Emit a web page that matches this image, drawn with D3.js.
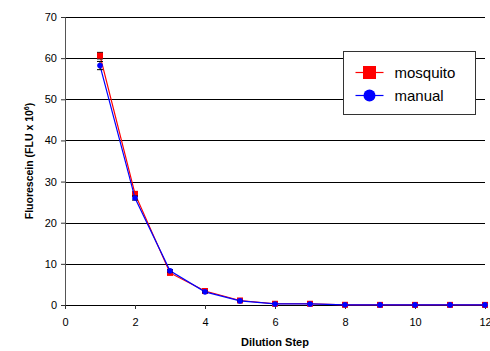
<!DOCTYPE html>
<html>
<head>
<meta charset="utf-8">
<script src="https://cdn.jsdelivr.net/npm/d3@7"></script>
<style>
  body { margin: 0; background: #fff; }
  text { font-family: "Liberation Sans", Arial, sans-serif; }
</style>
</head>
<body>
<div id="chart"></div>
<script>
// dilution steps
const steps = [1, 2, 3, 4, 5, 6, 7, 8, 9, 10, 11, 12];
// fluorescein readings (FLU x 10^6)
const mosquito = [60.6, 27.0, 7.8, 3.4, 1.1, 0.3, 0.3, 0.05, 0.03, 0.03, 0.03, 0.03];
const manual = [58.2, 26.0, 8.3, 3.2, 1.0, 0.25, 0.25, 0.05, 0.03, 0.03, 0.03, 0.03];
// error bar half-widths
const mosquitoErr = [0.8, 0.6, 0.3, 0.2, 0.1, 0, 0, 0, 0, 0, 0, 0];
const manualErr = [1.0, 0.5, 0.3, 0.2, 0.1, 0, 0, 0, 0, 0, 0, 0];
const xTicks = [0, 2, 4, 6, 8, 10, 12];
const yTicks = [0, 10, 20, 30, 40, 50, 60, 70];

const width = 490, height = 351;
const margin = { top: 17, right: 5, bottom: 46, left: 65 };
const w = 485 - margin.left;
const h = 305 - margin.top;

const svg = d3.select("#chart").append("svg")
  .attr("width", width).attr("height", height);

const g = svg.append("g")
  .attr("transform", "translate(" + margin.left + "," + margin.top + ")");

const x = d3.scaleLinear().domain([0, 12]).range([0, w]);
const y = d3.scaleLinear().domain([0, 70]).range([h, 0]);

// gridlines
g.selectAll(".grid")
  .data(yTicks.filter(d => d > 0))
  .enter().append("line")
  .attr("x1", 0).attr("x2", w)
  .attr("y1", d => Math.round(y(d)) + 0.5).attr("y2", d => Math.round(y(d)) + 0.5)
  .attr("stroke", "#000").attr("stroke-width", 1);

// axes
const yAxis = g.append("g")
  .call(d3.axisLeft(y).tickValues(yTicks).tickSize(4).tickPadding(4));
const xAxis = g.append("g")
  .attr("transform", "translate(0," + h + ")")
  .call(d3.axisBottom(x).tickValues(xTicks).tickSize(4).tickPadding(9));
[yAxis, xAxis].forEach(a => {
  a.select(".domain").attr("stroke", "#555");
  a.selectAll(".tick line").attr("stroke", "#333");
  a.selectAll("text").style("font-size", "11px").attr("fill", "#000")
    .style("font-family", "'Liberation Sans', Arial, sans-serif");
});
xAxis.select(".domain").attr("stroke", "#000");

const series = [
  { name: "mosquito", values: mosquito, err: mosquitoErr, color: "#ff0000", shape: "square" },
  { name: "manual", values: manual, err: manualErr, color: "#0000ff", shape: "circle" }
];

const line = d3.line()
  .x(d => x(d[0]))
  .y(d => y(d[1]));

series.forEach(s => {
  const pts = steps.map((st, i) => [st, s.values[i], s.err[i]]);
  g.append("path")
    .datum(pts)
    .attr("fill", "none")
    .attr("stroke", s.color)
    .attr("stroke-width", 1.2)
    .attr("d", line);

  // error bars
  const eb = g.selectAll(".err-" + s.name)
    .data(pts.filter(d => d[2] > 0))
    .enter().append("g");
  eb.append("line")
    .attr("x1", d => x(d[0])).attr("x2", d => x(d[0]))
    .attr("y1", d => y(d[1] - d[2])).attr("y2", d => y(d[1] + d[2]))
    .attr("stroke", "#000");
  eb.append("line")
    .attr("x1", d => x(d[0]) - 3).attr("x2", d => x(d[0]) + 3)
    .attr("y1", d => y(d[1] - d[2])).attr("y2", d => y(d[1] - d[2]))
    .attr("stroke", "#000");
  eb.append("line")
    .attr("x1", d => x(d[0]) - 3).attr("x2", d => x(d[0]) + 3)
    .attr("y1", d => y(d[1] + d[2])).attr("y2", d => y(d[1] + d[2]))
    .attr("stroke", "#000");

  if (s.shape === "square") {
    g.selectAll(".m-" + s.name).data(pts).enter().append("rect")
      .attr("x", d => x(d[0]) - 3).attr("y", d => y(d[1]) - 3)
      .attr("width", 6).attr("height", 6)
      .attr("fill", s.color);
  } else {
    g.selectAll(".m-" + s.name).data(pts).enter().append("circle")
      .attr("cx", d => x(d[0])).attr("cy", d => y(d[1]))
      .attr("r", 2.8)
      .attr("fill", s.color);
  }
});

// axis titles
svg.append("text")
  .attr("x", 275).attr("y", 346)
  .attr("text-anchor", "middle")
  .style("font-size", "11px").style("font-weight", "bold")
  .text("Dilution Step");

const yt = svg.append("text")
  .attr("transform", "translate(33,161) rotate(-90)")
  .attr("text-anchor", "middle")
  .style("font-size", "10.5px").style("font-weight", "bold");
yt.append("tspan").text("Fluorescein (FLU x 10");
yt.append("tspan").attr("dy", -4).style("font-size", "7px").text("6");
yt.append("tspan").attr("dy", 4).text(")");

// legend
const lg = svg.append("g").attr("transform", "translate(343.5,51.5)");
lg.append("rect")
  .attr("width", 132).attr("height", 63)
  .attr("fill", "#fff").attr("stroke", "#333");
series.forEach((s, i) => {
  const ly = 21 + i * 23;
  lg.append("line")
    .attr("x1", 12).attr("x2", 40).attr("y1", ly).attr("y2", ly)
    .attr("stroke", s.color).attr("stroke-width", 1.2);
  if (s.shape === "square") {
    lg.append("rect").attr("x", 19.5).attr("y", ly - 6.5)
      .attr("width", 13).attr("height", 13).attr("fill", s.color);
  } else {
    lg.append("circle").attr("cx", 26).attr("cy", ly).attr("r", 6)
      .attr("fill", s.color);
  }
  lg.append("text")
    .attr("x", 51).attr("y", ly + 5)
    .style("font-size", "15px")
    .text(s.name);
});
</script>
</body>
</html>
